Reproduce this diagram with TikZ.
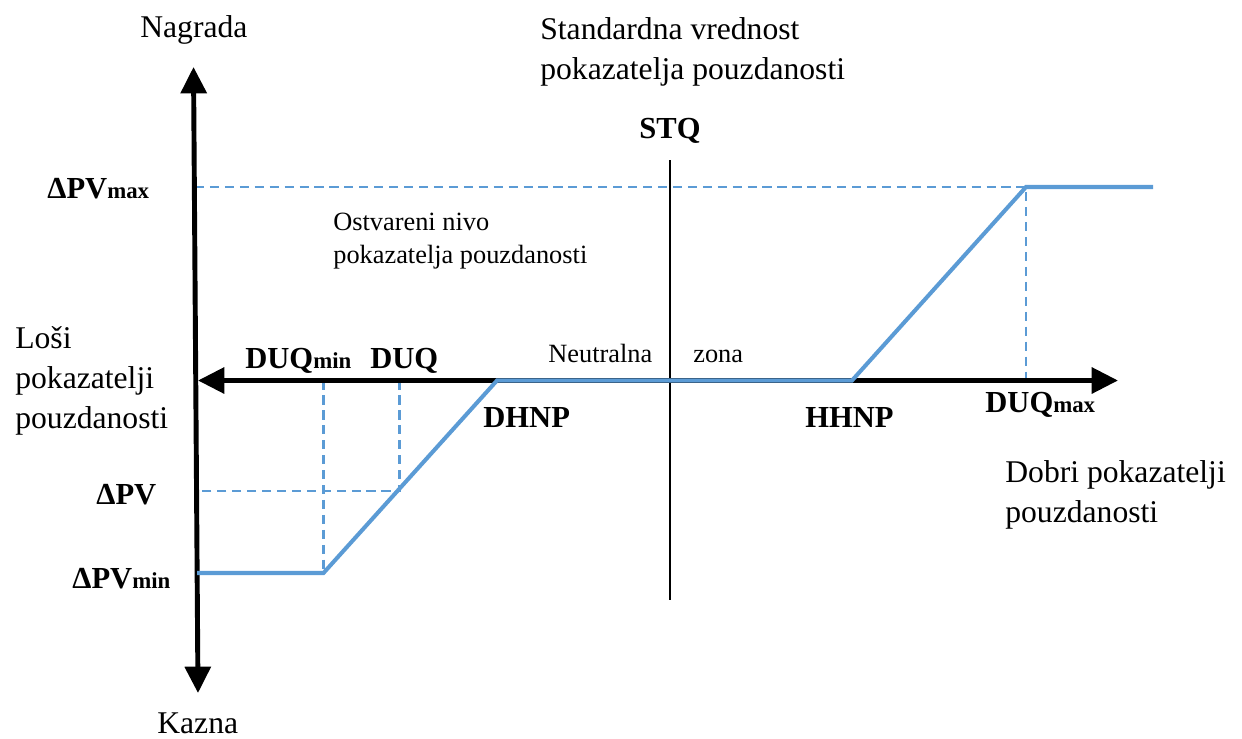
\documentclass[tikz,border=0pt]{standalone}
\usepackage{fontspec}
\setmainfont{Liberation Serif}
\usetikzlibrary{arrows.meta}
\definecolor{curveblue}{HTML}{5B9BD5}
\newcommand{\smallsub}[1]{\raisebox{-0.5pt}{\fontsize{13}{13}\selectfont #1}}
\begin{document}
\begin{tikzpicture}[x=0.02cm,y=-0.02cm,
  axis/.style={line width=2.8pt,
    {Triangle[length=15pt,width=14.5pt]}-{Triangle[length=15pt,width=14.5pt]}},
  curve/.style={curveblue,line width=2.3pt,line join=miter},
  guide/.style={curveblue,line width=1.5pt,dash pattern=on 5.2pt off 3.3pt},
  bigtxt/.style={anchor=base west,inner sep=0pt,font=\fontsize{18}{18}\selectfont},
  smalltxt/.style={anchor=base west,inner sep=0pt,font=\fontsize{15}{15}\selectfont},
  lbl/.style={anchor=base west,inner sep=0pt,font=\fontsize{17.4}{17.4}\selectfont\bfseries}]
\useasboundingbox (0,0) rectangle (1242,738);

% key points of the axes and of the reward curve
\coordinate (ytop) at (193.5,67);
\coordinate (ybot) at (198,693);
\coordinate (xleft) at (198,380.5);
\coordinate (xright) at (1118,380.5);
\coordinate (stqtop) at (670,160);
\coordinate (stqbot) at (670,600);
\coordinate (c0) at (197,573);
\coordinate (c1) at (323.5,573);
\coordinate (c2) at (497,380.5);
\coordinate (c3) at (852,380.5);
\coordinate (c4) at (1026,187);
\coordinate (c5) at (1153,187);
\coordinate (maxleft) at (195,187);
\coordinate (duqmaxfoot) at (1026,380.5);
\coordinate (duqminfoot) at (323.5,380.5);
\coordinate (duqfoot) at (399.5,380.5);
\coordinate (pvpoint) at (399.5,491);
\coordinate (pvleft) at (197,491);

% dashed guide lines
\draw[guide] (maxleft) -- (c4) -- (duqmaxfoot);
\draw[guide] (duqminfoot) -- (c1);
\draw[guide] (duqfoot) -- (pvpoint) -- (pvleft);

% standard value line
\draw[line width=0.9pt] (stqtop) -- (stqbot);

% axes
\draw[axis] (ybot) -- (ytop);
\draw[axis] (xleft) -- (xright);

% reward / penalty curve
\draw[curve] (c0) -- (c1) -- (c2) -- (c3) -- (c4) -- (c5);

% texts
\node[bigtxt] (nagrada) at (140,37) {Nagrada};
\node[bigtxt] (kazna) at (157,733) {Kazna};
\node[bigtxt] (std1) at (540,39) {Standardna vrednost};
\node[bigtxt] (std2) at (540,79) {pokazatelja pouzdanosti};
\node[lbl,anchor=base] (stq) at (670,138) {STQ};
\node[lbl] (pvmax) at (47,198) {ΔPV\smallsub{max}};
\node[smalltxt] (ost1) at (333,230) {Ostvareni nivo};
\node[smalltxt] (ost2) at (333,263) {pokazatelja pouzdanosti};
\node[bigtxt] (losi1) at (15,348) {Loši};
\node[bigtxt] (losi2) at (15,388) {pokazatelji};
\node[bigtxt] (losi3) at (15,428) {pouzdanosti};
\node[lbl] (duqmin) at (245,368) {DUQ\smallsub{min}};
\node[lbl] (duq) at (370,368) {DUQ};
\node[smalltxt] (neut) at (548,362) {Neutralna};
\node[smalltxt] (zona) at (693,362) {zona};
\node[lbl] (dhnp) at (483,427) {DHNP};
\node[lbl] (hhnp) at (805,427) {HHNP};
\node[lbl] (duqmax) at (985,412) {DUQ\smallsub{max}};
\node[bigtxt] (dobri1) at (1005,482) {Dobri pokazatelji};
\node[bigtxt] (dobri2) at (1005,522) {pouzdanosti};
\node[lbl] (pv) at (96,504) {ΔPV};
\node[lbl] (pvmin) at (72,588) {ΔPV\smallsub{min}};
\end{tikzpicture}
\end{document}
